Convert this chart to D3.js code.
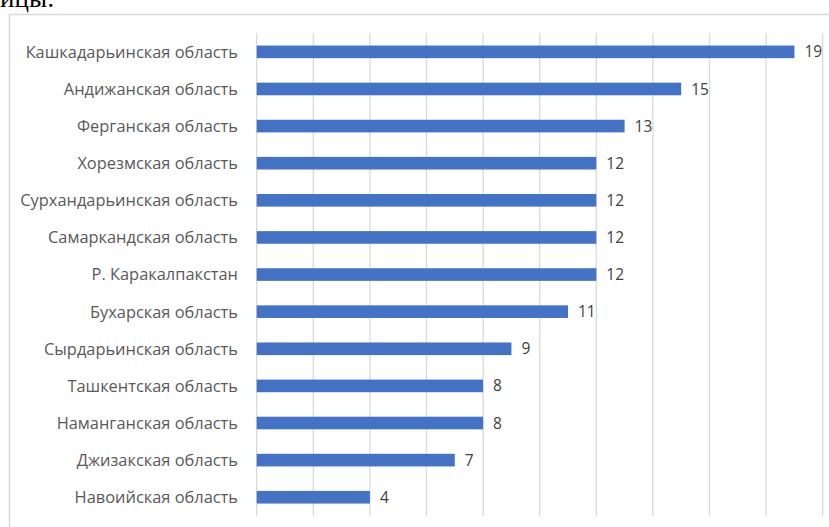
<!DOCTYPE html>
<html><head><meta charset="utf-8">
<script src="https://cdn.jsdelivr.net/npm/d3@7"></script>
<style>html,body{margin:0;padding:0;background:#fff;overflow:hidden}</style>
</head><body>
<svg id="c" width="829" height="527"></svg>
<script>
const categories = ["Кашкадарьинская область","Андижанская область","Ферганская область","Хорезмская область","Сурхандарьинская область","Самаркандская область","Р. Каракалпакстан","Бухарская область","Сырдарьинская область","Ташкентская область","Наманганская область","Джизакская область","Навоийская область"];
const values = [19,15,13,12,12,12,12,11,9,8,8,7,4];
const xTicks = [0,2,4,6,8,10,12,14,16,18,20];

const svg = d3.select("#c");
// cropped text above chart
svg.append("text").attr("x",0).attr("y",7).attr("font-family","Liberation Serif, serif")
  .attr("font-size",27).attr("fill","#000").text("ицы:");
// frame
svg.append("rect").attr("x",9.5).attr("y",14.5).attr("width",900).attr("height",600)
  .attr("fill","none").attr("stroke","#d9d9d9").attr("stroke-width",1.5);

const x = d3.scaleLinear().domain([0,20]).range([256.7,822.7]);
const y = d3.scaleBand().domain(categories).range([33.3,515.8]).paddingInner(0.66).paddingOuter(0.33);

svg.append("g").selectAll("line").data(xTicks).join("line")
  .attr("x1",d=>x(d)).attr("x2",d=>x(d)).attr("y1",33.3).attr("y2",515.8)
  .attr("stroke","#d9d9d9").attr("stroke-width",1.3);

const data = categories.map((c,i)=>({c,v:values[i]}));
svg.append("g").selectAll("rect").data(data).join("rect")
  .attr("x",x(0)).attr("y",d=>y(d.c)).attr("width",d=>x(d.v)-x(0)).attr("height",y.bandwidth())
  .attr("fill","#4472c4");

const font = "Open Sans, sans-serif";
svg.append("g").selectAll("text").data(data).join("text")
  .attr("x",238).attr("y",d=>y(d.c)+y.bandwidth()/2).attr("dy","0.36em")
  .attr("text-anchor","end").attr("font-family",font).attr("font-size",16.4).attr("fill","#595959")
  .text(d=>d.c);
svg.append("g").selectAll("text").data(data).join("text")
  .attr("x",d=>x(d.v)+10).attr("y",d=>y(d.c)+y.bandwidth()/2).attr("dy","0.36em")
  .attr("font-family",font).attr("font-size",15.5).attr("fill","#404040")
  .text(d=>d.v);
</script>
</body></html>
